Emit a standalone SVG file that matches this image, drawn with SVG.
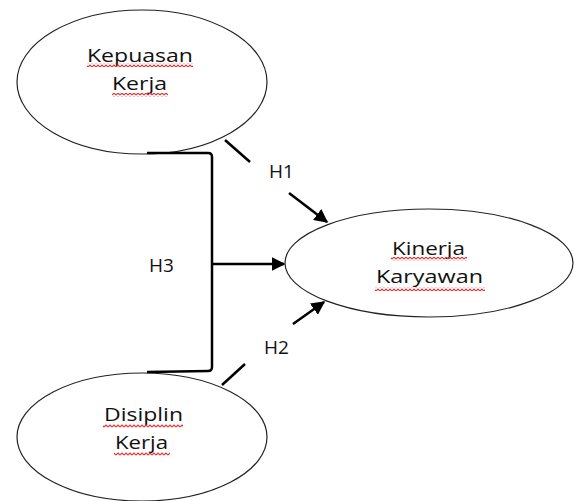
<svg xmlns="http://www.w3.org/2000/svg" width="574" height="501" viewBox="0 0 574 501">
<style>
.node ellipse{fill:#fff;stroke:#222;stroke-width:1.2}
.lbl{font-family:"Open Sans","DejaVu Sans",sans-serif;font-size:18px;fill:#111;text-anchor:start}
.h{font-family:"Open Sans","DejaVu Sans",sans-serif;font-size:19px;fill:#111}
.conn{fill:none;stroke:#000;stroke-width:2.5}
.sq{fill:url(#squig)}
</style>
<defs>
<pattern id="squig" patternUnits="userSpaceOnUse" width="4" height="4">
<path d="M0,3 L2,1 L4,3" fill="none" stroke="#e03030" stroke-width="1.1"/>
</pattern>
<marker id="ah" viewBox="0 0 10 10" refX="9" refY="5" markerWidth="5.5" markerHeight="5.5" orient="auto" markerUnits="strokeWidth">
<path d="M0,0 L10,5 L0,10 Z" fill="#000"/>
</marker>
</defs>
<rect width="574" height="501" fill="#fff"/>
<g id="kepuasan" class="node">
<ellipse cx="142" cy="82" rx="125" ry="72"/>
<text class="lbl" x="87" y="62" textLength="106" lengthAdjust="spacingAndGlyphs">Kepuasan</text>
<text class="lbl" x="112" y="90" textLength="55" lengthAdjust="spacingAndGlyphs">Kerja</text>
<rect class="sq" x="87" y="63" width="106" height="4"/>
<rect class="sq" x="112" y="93" width="56" height="4"/>
</g>
<g id="kinerja" class="node">
<ellipse cx="429" cy="263" rx="144" ry="54"/>
<text class="lbl" x="392" y="255" textLength="73" lengthAdjust="spacingAndGlyphs">Kinerja</text>
<text class="lbl" x="376" y="283" textLength="107" lengthAdjust="spacingAndGlyphs">Karyawan</text>
<rect class="sq" x="391" y="257" width="76" height="4"/>
<rect class="sq" x="375" y="287" width="110" height="4"/>
</g>
<g id="disiplin" class="node">
<ellipse cx="142" cy="437" rx="125" ry="64"/>
<text class="lbl" x="104" y="421" textLength="79" lengthAdjust="spacingAndGlyphs">Disiplin</text>
<text class="lbl" x="115" y="449" textLength="53" lengthAdjust="spacingAndGlyphs">Kerja</text>
<rect class="sq" x="103" y="424" width="80" height="4"/>
<rect class="sq" x="114" y="452" width="56" height="4"/>
</g>
<g id="connectors">
<path class="conn" d="M147,153 L208,153 Q212,153 212,157 L212,367 Q212,371 208,371 L147,372"/>
<path class="conn" d="M212,264 L284,264" marker-end="url(#ah)"/>
<path class="conn" d="M225,140 L250,162"/>
<path class="conn" d="M289,193 L327,222" marker-end="url(#ah)"/>
<path class="conn" d="M293,324 L324,302" marker-end="url(#ah)"/>
<path class="conn" d="M245,364 L222,385"/>
<text class="h" x="269" y="178">H1</text>
<text class="h" x="149" y="272">H3</text>
<text class="h" x="264" y="354">H2</text>
</g>
</svg>
